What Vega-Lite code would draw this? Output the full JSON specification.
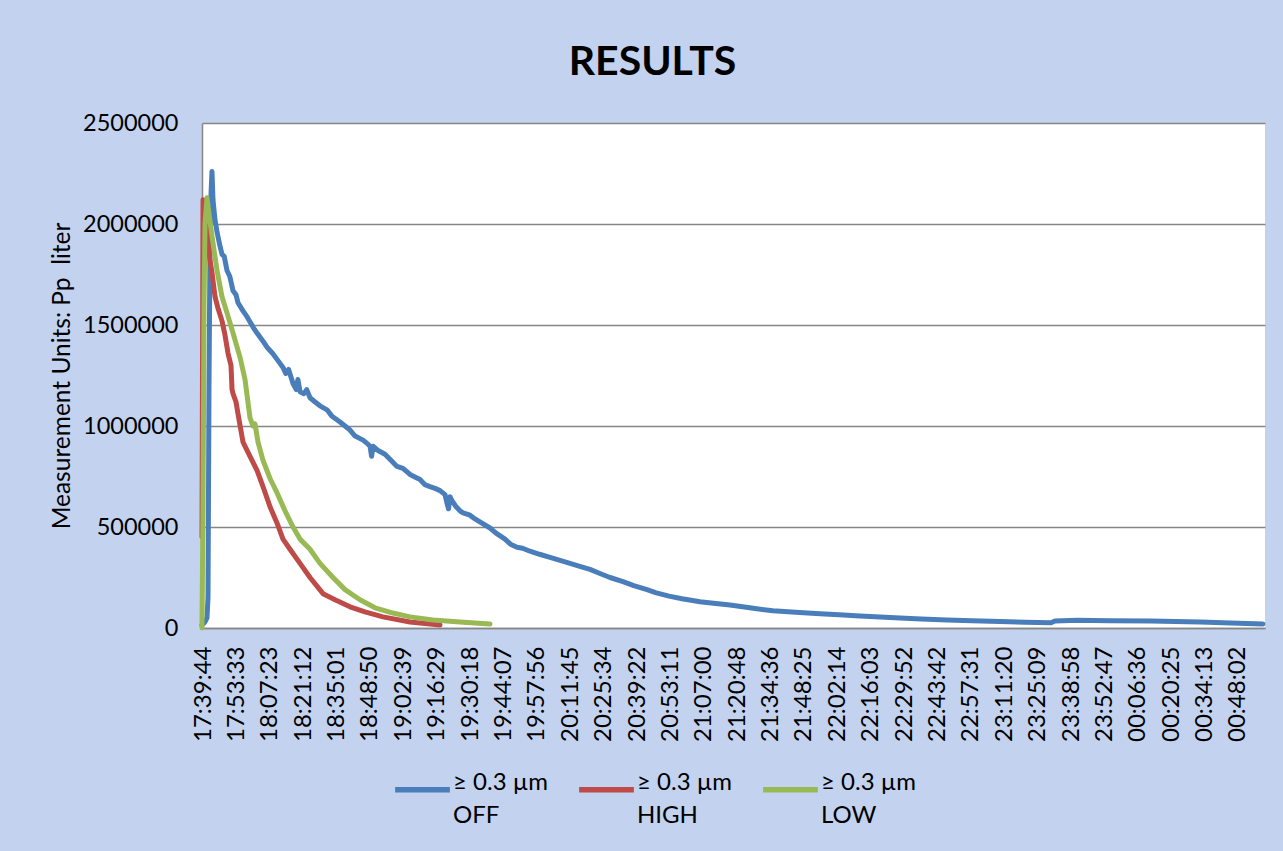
{
  "$schema": "https://vega.github.io/schema/vega-lite/v6.json",
  "width": 1063,
  "height": 505,
  "autosize": {"type": "none"},
  "padding": {"left": 202, "top": 123, "right": 18, "bottom": 223},
  "background": "#c3d2ee",
  "title": {"text": "RESULTS", "font": "Lato", "fontSize": 41, "fontWeight": "bold", "color": "#000000", "anchor": "middle", "frame": "group", "dx": -81, "offset": 27},
  "data": {"values": [
    {"t": "2020-01-01 17:39:19", "v": 15000, "s": "OFF"},
    {"t": "2020-01-01 17:39:44", "v": 20000, "s": "OFF"},
    {"t": "2020-01-01 17:40:34", "v": 30000, "s": "OFF"},
    {"t": "2020-01-01 17:41:23", "v": 50000, "s": "OFF"},
    {"t": "2020-01-01 17:41:48", "v": 150000, "s": "OFF"},
    {"t": "2020-01-01 17:42:13", "v": 1200000, "s": "OFF"},
    {"t": "2020-01-01 17:42:38", "v": 1900000, "s": "OFF"},
    {"t": "2020-01-01 17:43:03", "v": 2150000, "s": "OFF"},
    {"t": "2020-01-01 17:43:27", "v": 2260000, "s": "OFF"},
    {"t": "2020-01-01 17:43:52", "v": 2120000, "s": "OFF"},
    {"t": "2020-01-01 17:44:42", "v": 2020000, "s": "OFF"},
    {"t": "2020-01-01 17:45:32", "v": 1960000, "s": "OFF"},
    {"t": "2020-01-01 17:46:46", "v": 1890000, "s": "OFF"},
    {"t": "2020-01-01 17:47:36", "v": 1850000, "s": "OFF"},
    {"t": "2020-01-01 17:48:30", "v": 1840000, "s": "OFF"},
    {"t": "2020-01-01 17:49:40", "v": 1770000, "s": "OFF"},
    {"t": "2020-01-01 17:50:50", "v": 1740000, "s": "OFF"},
    {"t": "2020-01-01 17:52:09", "v": 1670000, "s": "OFF"},
    {"t": "2020-01-01 17:53:23", "v": 1650000, "s": "OFF"},
    {"t": "2020-01-01 17:54:13", "v": 1610000, "s": "OFF"},
    {"t": "2020-01-01 17:56:17", "v": 1570000, "s": "OFF"},
    {"t": "2020-01-01 17:58:00", "v": 1540000, "s": "OFF"},
    {"t": "2020-01-01 18:00:26", "v": 1490000, "s": "OFF"},
    {"t": "2020-01-01 18:02:05", "v": 1460000, "s": "OFF"},
    {"t": "2020-01-01 18:04:34", "v": 1420000, "s": "OFF"},
    {"t": "2020-01-01 18:06:13", "v": 1390000, "s": "OFF"},
    {"t": "2020-01-01 18:08:30", "v": 1360000, "s": "OFF"},
    {"t": "2020-01-01 18:11:36", "v": 1310000, "s": "OFF"},
    {"t": "2020-01-01 18:12:50", "v": 1290000, "s": "OFF"},
    {"t": "2020-01-01 18:14:00", "v": 1260000, "s": "OFF"},
    {"t": "2020-01-01 18:15:10", "v": 1280000, "s": "OFF"},
    {"t": "2020-01-01 18:16:59", "v": 1210000, "s": "OFF"},
    {"t": "2020-01-01 18:18:20", "v": 1180000, "s": "OFF"},
    {"t": "2020-01-01 18:19:00", "v": 1230000, "s": "OFF"},
    {"t": "2020-01-01 18:19:53", "v": 1170000, "s": "OFF"},
    {"t": "2020-01-01 18:21:30", "v": 1160000, "s": "OFF"},
    {"t": "2020-01-01 18:22:40", "v": 1180000, "s": "OFF"},
    {"t": "2020-01-01 18:24:01", "v": 1140000, "s": "OFF"},
    {"t": "2020-01-01 18:26:00", "v": 1120000, "s": "OFF"},
    {"t": "2020-01-01 18:28:09", "v": 1100000, "s": "OFF"},
    {"t": "2020-01-01 18:31:03", "v": 1080000, "s": "OFF"},
    {"t": "2020-01-01 18:33:00", "v": 1050000, "s": "OFF"},
    {"t": "2020-01-01 18:36:26", "v": 1020000, "s": "OFF"},
    {"t": "2020-01-01 18:38:30", "v": 1000000, "s": "OFF"},
    {"t": "2020-01-01 18:40:34", "v": 980000, "s": "OFF"},
    {"t": "2020-01-01 18:42:40", "v": 950000, "s": "OFF"},
    {"t": "2020-01-01 18:45:57", "v": 930000, "s": "OFF"},
    {"t": "2020-01-01 18:48:00", "v": 910000, "s": "OFF"},
    {"t": "2020-01-01 18:48:51", "v": 900000, "s": "OFF"},
    {"t": "2020-01-01 18:49:30", "v": 850000, "s": "OFF"},
    {"t": "2020-01-01 18:50:05", "v": 900000, "s": "OFF"},
    {"t": "2020-01-01 18:52:00", "v": 880000, "s": "OFF"},
    {"t": "2020-01-01 18:55:03", "v": 860000, "s": "OFF"},
    {"t": "2020-01-01 18:57:30", "v": 830000, "s": "OFF"},
    {"t": "2020-01-01 19:00:01", "v": 800000, "s": "OFF"},
    {"t": "2020-01-01 19:02:30", "v": 790000, "s": "OFF"},
    {"t": "2020-01-01 19:05:24", "v": 760000, "s": "OFF"},
    {"t": "2020-01-01 19:07:00", "v": 750000, "s": "OFF"},
    {"t": "2020-01-01 19:09:32", "v": 735000, "s": "OFF"},
    {"t": "2020-01-01 19:11:30", "v": 710000, "s": "OFF"},
    {"t": "2020-01-01 19:13:40", "v": 700000, "s": "OFF"},
    {"t": "2020-01-01 19:16:00", "v": 690000, "s": "OFF"},
    {"t": "2020-01-01 19:17:49", "v": 680000, "s": "OFF"},
    {"t": "2020-01-01 19:19:53", "v": 660000, "s": "OFF"},
    {"t": "2020-01-01 19:20:40", "v": 620000, "s": "OFF"},
    {"t": "2020-01-01 19:21:20", "v": 590000, "s": "OFF"},
    {"t": "2020-01-01 19:21:57", "v": 650000, "s": "OFF"},
    {"t": "2020-01-01 19:22:47", "v": 630000, "s": "OFF"},
    {"t": "2020-01-01 19:24:30", "v": 600000, "s": "OFF"},
    {"t": "2020-01-01 19:26:05", "v": 580000, "s": "OFF"},
    {"t": "2020-01-01 19:27:20", "v": 570000, "s": "OFF"},
    {"t": "2020-01-01 19:30:00", "v": 560000, "s": "OFF"},
    {"t": "2020-01-01 19:32:18", "v": 540000, "s": "OFF"},
    {"t": "2020-01-01 19:35:00", "v": 520000, "s": "OFF"},
    {"t": "2020-01-01 19:38:30", "v": 495000, "s": "OFF"},
    {"t": "2020-01-01 19:41:00", "v": 470000, "s": "OFF"},
    {"t": "2020-01-01 19:44:43", "v": 440000, "s": "OFF"},
    {"t": "2020-01-01 19:47:00", "v": 415000, "s": "OFF"},
    {"t": "2020-01-01 19:49:41", "v": 400000, "s": "OFF"},
    {"t": "2020-01-01 19:52:00", "v": 395000, "s": "OFF"},
    {"t": "2020-01-01 19:55:03", "v": 380000, "s": "OFF"},
    {"t": "2020-01-01 19:59:00", "v": 365000, "s": "OFF"},
    {"t": "2020-01-01 20:03:20", "v": 350000, "s": "OFF"},
    {"t": "2020-01-01 20:07:30", "v": 335000, "s": "OFF"},
    {"t": "2020-01-01 20:11:37", "v": 320000, "s": "OFF"},
    {"t": "2020-01-01 20:15:40", "v": 305000, "s": "OFF"},
    {"t": "2020-01-01 20:19:53", "v": 290000, "s": "OFF"},
    {"t": "2020-01-01 20:24:00", "v": 270000, "s": "OFF"},
    {"t": "2020-01-01 20:28:10", "v": 250000, "s": "OFF"},
    {"t": "2020-01-01 20:33:33", "v": 230000, "s": "OFF"},
    {"t": "2020-01-01 20:38:00", "v": 210000, "s": "OFF"},
    {"t": "2020-01-01 20:43:29", "v": 190000, "s": "OFF"},
    {"t": "2020-01-01 20:47:00", "v": 175000, "s": "OFF"},
    {"t": "2020-01-01 20:52:35", "v": 158000, "s": "OFF"},
    {"t": "2020-01-01 20:58:00", "v": 145000, "s": "OFF"},
    {"t": "2020-01-01 21:05:25", "v": 130000, "s": "OFF"},
    {"t": "2020-01-01 21:11:00", "v": 122000, "s": "OFF"},
    {"t": "2020-01-01 21:17:49", "v": 114000, "s": "OFF"},
    {"t": "2020-01-01 21:26:00", "v": 100000, "s": "OFF"},
    {"t": "2020-01-01 21:35:37", "v": 85000, "s": "OFF"},
    {"t": "2020-01-01 21:45:00", "v": 78000, "s": "OFF"},
    {"t": "2020-01-01 21:55:04", "v": 70000, "s": "OFF"},
    {"t": "2020-01-01 22:03:00", "v": 65000, "s": "OFF"},
    {"t": "2020-01-01 22:11:37", "v": 60000, "s": "OFF"},
    {"t": "2020-01-01 22:20:00", "v": 55000, "s": "OFF"},
    {"t": "2020-01-01 22:28:11", "v": 50000, "s": "OFF"},
    {"t": "2020-01-01 22:37:00", "v": 45000, "s": "OFF"},
    {"t": "2020-01-01 22:47:38", "v": 40000, "s": "OFF"},
    {"t": "2020-01-01 22:58:00", "v": 36000, "s": "OFF"},
    {"t": "2020-01-01 23:09:34", "v": 32000, "s": "OFF"},
    {"t": "2020-01-01 23:20:00", "v": 28000, "s": "OFF"},
    {"t": "2020-01-01 23:30:40", "v": 26000, "s": "OFF"},
    {"t": "2020-01-01 23:32:19", "v": 35000, "s": "OFF"},
    {"t": "2020-01-01 23:41:26", "v": 38000, "s": "OFF"},
    {"t": "2020-01-01 23:55:00", "v": 36000, "s": "OFF"},
    {"t": "2020-01-02 00:12:03", "v": 35000, "s": "OFF"},
    {"t": "2020-01-02 00:22:00", "v": 32000, "s": "OFF"},
    {"t": "2020-01-02 00:32:20", "v": 30000, "s": "OFF"},
    {"t": "2020-01-02 00:45:00", "v": 25000, "s": "OFF"},
    {"t": "2020-01-02 00:58:24", "v": 20000, "s": "OFF"},

    {"t": "2020-01-01 17:39:19", "v": 450000, "s": "HIGH"},
    {"t": "2020-01-01 17:39:44", "v": 2120000, "s": "HIGH"},
    {"t": "2020-01-01 17:40:09", "v": 2100000, "s": "HIGH"},
    {"t": "2020-01-01 17:41:23", "v": 1950000, "s": "HIGH"},
    {"t": "2020-01-01 17:42:38", "v": 1820000, "s": "HIGH"},
    {"t": "2020-01-01 17:43:27", "v": 1760000, "s": "HIGH"},
    {"t": "2020-01-01 17:44:42", "v": 1640000, "s": "HIGH"},
    {"t": "2020-01-01 17:46:00", "v": 1580000, "s": "HIGH"},
    {"t": "2020-01-01 17:47:36", "v": 1520000, "s": "HIGH"},
    {"t": "2020-01-01 17:48:50", "v": 1450000, "s": "HIGH"},
    {"t": "2020-01-01 17:50:05", "v": 1360000, "s": "HIGH"},
    {"t": "2020-01-01 17:51:19", "v": 1300000, "s": "HIGH"},
    {"t": "2020-01-01 17:51:45", "v": 1180000, "s": "HIGH"},
    {"t": "2020-01-01 17:52:09", "v": 1160000, "s": "HIGH"},
    {"t": "2020-01-01 17:53:23", "v": 1120000, "s": "HIGH"},
    {"t": "2020-01-01 17:54:13", "v": 1060000, "s": "HIGH"},
    {"t": "2020-01-01 17:56:17", "v": 920000, "s": "HIGH"},
    {"t": "2020-01-01 17:59:11", "v": 850000, "s": "HIGH"},
    {"t": "2020-01-01 18:02:05", "v": 780000, "s": "HIGH"},
    {"t": "2020-01-01 18:04:34", "v": 700000, "s": "HIGH"},
    {"t": "2020-01-01 18:07:28", "v": 600000, "s": "HIGH"},
    {"t": "2020-01-01 18:10:21", "v": 520000, "s": "HIGH"},
    {"t": "2020-01-01 18:12:50", "v": 440000, "s": "HIGH"},
    {"t": "2020-01-01 18:15:44", "v": 390000, "s": "HIGH"},
    {"t": "2020-01-01 18:19:53", "v": 320000, "s": "HIGH"},
    {"t": "2020-01-01 18:24:01", "v": 250000, "s": "HIGH"},
    {"t": "2020-01-01 18:29:24", "v": 170000, "s": "HIGH"},
    {"t": "2020-01-01 18:34:22", "v": 140000, "s": "HIGH"},
    {"t": "2020-01-01 18:40:34", "v": 105000, "s": "HIGH"},
    {"t": "2020-01-01 18:46:46", "v": 80000, "s": "HIGH"},
    {"t": "2020-01-01 18:54:13", "v": 55000, "s": "HIGH"},
    {"t": "2020-01-01 19:05:24", "v": 30000, "s": "HIGH"},
    {"t": "2020-01-01 19:17:49", "v": 15000, "s": "HIGH"},

    {"t": "2020-01-01 17:39:19", "v": 0, "s": "LOW"},
    {"t": "2020-01-01 17:39:44", "v": 600000, "s": "LOW"},
    {"t": "2020-01-01 17:40:09", "v": 1600000, "s": "LOW"},
    {"t": "2020-01-01 17:40:34", "v": 2000000, "s": "LOW"},
    {"t": "2020-01-01 17:41:23", "v": 2130000, "s": "LOW"},
    {"t": "2020-01-01 17:42:13", "v": 2050000, "s": "LOW"},
    {"t": "2020-01-01 17:43:27", "v": 1940000, "s": "LOW"},
    {"t": "2020-01-01 17:45:32", "v": 1770000, "s": "LOW"},
    {"t": "2020-01-01 17:47:36", "v": 1640000, "s": "LOW"},
    {"t": "2020-01-01 17:49:40", "v": 1560000, "s": "LOW"},
    {"t": "2020-01-01 17:52:09", "v": 1460000, "s": "LOW"},
    {"t": "2020-01-01 17:55:03", "v": 1340000, "s": "LOW"},
    {"t": "2020-01-01 17:57:07", "v": 1230000, "s": "LOW"},
    {"t": "2020-01-01 17:59:11", "v": 1040000, "s": "LOW"},
    {"t": "2020-01-01 18:00:26", "v": 1000000, "s": "LOW"},
    {"t": "2020-01-01 18:01:15", "v": 1010000, "s": "LOW"},
    {"t": "2020-01-01 18:02:30", "v": 920000, "s": "LOW"},
    {"t": "2020-01-01 18:04:34", "v": 830000, "s": "LOW"},
    {"t": "2020-01-01 18:07:28", "v": 740000, "s": "LOW"},
    {"t": "2020-01-01 18:10:21", "v": 670000, "s": "LOW"},
    {"t": "2020-01-01 18:13:40", "v": 580000, "s": "LOW"},
    {"t": "2020-01-01 18:16:59", "v": 500000, "s": "LOW"},
    {"t": "2020-01-01 18:19:53", "v": 440000, "s": "LOW"},
    {"t": "2020-01-01 18:24:01", "v": 390000, "s": "LOW"},
    {"t": "2020-01-01 18:28:09", "v": 320000, "s": "LOW"},
    {"t": "2020-01-01 18:33:32", "v": 250000, "s": "LOW"},
    {"t": "2020-01-01 18:38:30", "v": 190000, "s": "LOW"},
    {"t": "2020-01-01 18:44:42", "v": 140000, "s": "LOW"},
    {"t": "2020-01-01 18:50:55", "v": 100000, "s": "LOW"},
    {"t": "2020-01-01 18:58:22", "v": 74000, "s": "LOW"},
    {"t": "2020-01-01 19:05:24", "v": 55000, "s": "LOW"},
    {"t": "2020-01-01 19:14:55", "v": 40000, "s": "LOW"},
    {"t": "2020-01-01 19:26:05", "v": 30000, "s": "LOW"},
    {"t": "2020-01-01 19:38:30", "v": 20000, "s": "LOW"}
  ]},
  "mark": {"type": "line", "strokeWidth": 5, "strokeJoin": "round", "strokeCap": "round"},
  "encoding": {
    "x": {
      "field": "t", "type": "temporal",
      "scale": {"domain": [
        {"year": 2020, "month": 1, "date": 1, "hours": 17, "minutes": 39, "seconds": 19},
        {"year": 2020, "month": 1, "date": 2, "hours": 0, "minutes": 59, "seconds": 14}
      ]},
      "axis": {
        "title": null, "grid": false, "format": "%H:%M:%S",
        "labelAngle": 270, "labelAlign": "right", "labelBaseline": "middle",
        "labelPadding": 18, "labelOverlap": false, "labelFlush": false, "labelBound": false,
        "labelFontSize": 24,
        "values": [
          {"year": 2020, "month": 1, "date": 1, "hours": 17, "minutes": 39, "seconds": 44},
          {"year": 2020, "month": 1, "date": 1, "hours": 17, "minutes": 53, "seconds": 33},
          {"year": 2020, "month": 1, "date": 1, "hours": 18, "minutes": 7, "seconds": 23},
          {"year": 2020, "month": 1, "date": 1, "hours": 18, "minutes": 21, "seconds": 12},
          {"year": 2020, "month": 1, "date": 1, "hours": 18, "minutes": 35, "seconds": 1},
          {"year": 2020, "month": 1, "date": 1, "hours": 18, "minutes": 48, "seconds": 50},
          {"year": 2020, "month": 1, "date": 1, "hours": 19, "minutes": 2, "seconds": 39},
          {"year": 2020, "month": 1, "date": 1, "hours": 19, "minutes": 16, "seconds": 29},
          {"year": 2020, "month": 1, "date": 1, "hours": 19, "minutes": 30, "seconds": 18},
          {"year": 2020, "month": 1, "date": 1, "hours": 19, "minutes": 44, "seconds": 7},
          {"year": 2020, "month": 1, "date": 1, "hours": 19, "minutes": 57, "seconds": 56},
          {"year": 2020, "month": 1, "date": 1, "hours": 20, "minutes": 11, "seconds": 45},
          {"year": 2020, "month": 1, "date": 1, "hours": 20, "minutes": 25, "seconds": 34},
          {"year": 2020, "month": 1, "date": 1, "hours": 20, "minutes": 39, "seconds": 22},
          {"year": 2020, "month": 1, "date": 1, "hours": 20, "minutes": 53, "seconds": 11},
          {"year": 2020, "month": 1, "date": 1, "hours": 21, "minutes": 7, "seconds": 0},
          {"year": 2020, "month": 1, "date": 1, "hours": 21, "minutes": 20, "seconds": 48},
          {"year": 2020, "month": 1, "date": 1, "hours": 21, "minutes": 34, "seconds": 36},
          {"year": 2020, "month": 1, "date": 1, "hours": 21, "minutes": 48, "seconds": 25},
          {"year": 2020, "month": 1, "date": 1, "hours": 22, "minutes": 2, "seconds": 14},
          {"year": 2020, "month": 1, "date": 1, "hours": 22, "minutes": 16, "seconds": 3},
          {"year": 2020, "month": 1, "date": 1, "hours": 22, "minutes": 29, "seconds": 52},
          {"year": 2020, "month": 1, "date": 1, "hours": 22, "minutes": 43, "seconds": 42},
          {"year": 2020, "month": 1, "date": 1, "hours": 22, "minutes": 57, "seconds": 31},
          {"year": 2020, "month": 1, "date": 1, "hours": 23, "minutes": 11, "seconds": 20},
          {"year": 2020, "month": 1, "date": 1, "hours": 23, "minutes": 25, "seconds": 9},
          {"year": 2020, "month": 1, "date": 1, "hours": 23, "minutes": 38, "seconds": 58},
          {"year": 2020, "month": 1, "date": 1, "hours": 23, "minutes": 52, "seconds": 47},
          {"year": 2020, "month": 1, "date": 2, "hours": 0, "minutes": 6, "seconds": 36},
          {"year": 2020, "month": 1, "date": 2, "hours": 0, "minutes": 20, "seconds": 25},
          {"year": 2020, "month": 1, "date": 2, "hours": 0, "minutes": 34, "seconds": 13},
          {"year": 2020, "month": 1, "date": 2, "hours": 0, "minutes": 48, "seconds": 2}
        ]
      }
    },
    "y": {
      "field": "v", "type": "quantitative",
      "scale": {"domain": [0, 2500000], "nice": false},
      "axis": {
        "title": "Measurement Units: Pp\u00a0 liter",
        "values": [0, 500000, 1000000, 1500000, 2000000, 2500000],
        "format": "d", "grid": true, "labelPadding": 24, "titlePadding": 8,
        "labelFontSize": 23.5, "titleFontSize": 24.5
      }
    },
    "color": {
      "field": "s", "type": "nominal",
      "scale": {"domain": ["OFF", "HIGH", "LOW"], "range": ["#4a7ebb", "#be4b48", "#98b954"]},
      "legend": {
        "orient": "none", "legendX": 190, "legendY": 636, "direction": "horizontal",
        "title": null, "symbolType": "stroke", "symbolSize": 3000, "symbolStrokeWidth": 5.5,
        "labelFont": "Lato", "labelFontSize": 24, "labelColor": "#000000", "labelOffset": 0,
        "columnPadding": 19, "labelLimit": 300, "labelBaseline": "alphabetic",
        "labelExpr": "['\u2265 0.3 \u00b5m', datum.label]"
      }
    }
  },
  "config": {
    "view": {"stroke": null, "fill": "#ffffff"},
    "style": {"guide-label": {"lineHeight": 33}},
    "axis": {
      "domainColor": "#868686", "domainWidth": 1.5, "gridColor": "#868686", "gridWidth": 1.5,
      "ticks": false, "labelFont": "Lato", "labelFontSize": 22, "labelColor": "#000000",
      "titleFont": "Lato", "titleFontSize": 22, "titleFontWeight": "normal", "titleColor": "#000000"
    }
  }
}
